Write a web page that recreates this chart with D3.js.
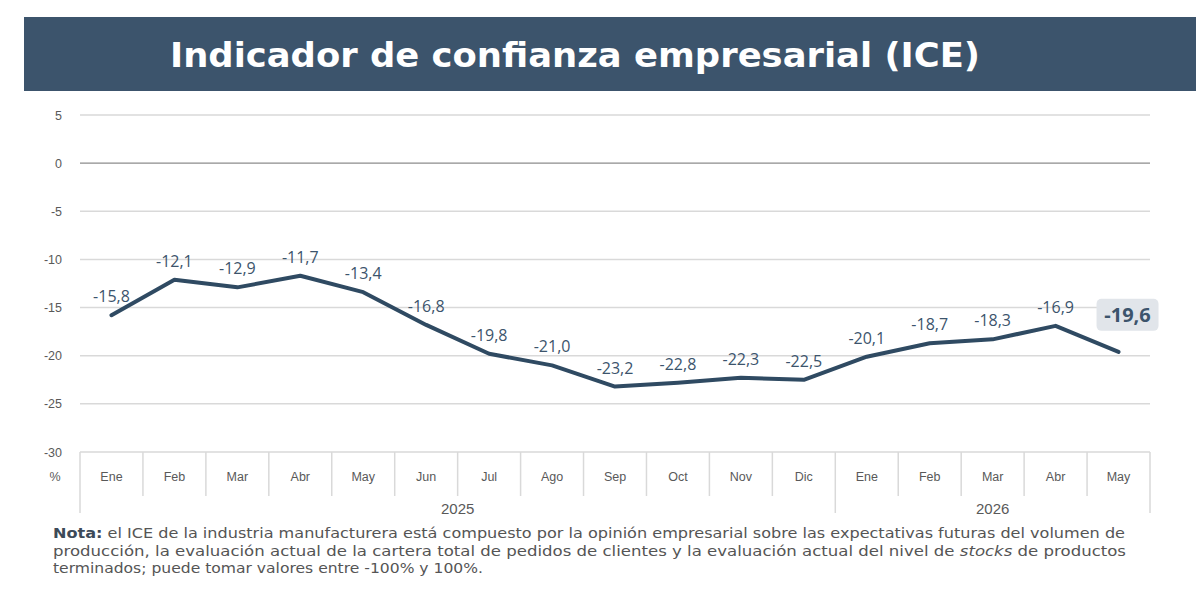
<!DOCTYPE html>
<html>
<head>
<meta charset="utf-8">
<script src="https://cdn.jsdelivr.net/npm/d3@7"></script>
<style>
  body { margin: 0; background: #fff; }
  svg { display: block; }
</style>
</head>
<body>
<div id="viz"></div>
<script>
// datos del ICE
var months = ['Ene','Feb','Mar','Abr','May','Jun','Jul','Ago','Sep','Oct','Nov','Dic','Ene','Feb','Mar','Abr','May'];
var years = ['2025','2026'];
var yearOf = [0,0,0,0,0,0,0,0,0,0,0,0,1,1,1,1,1];
var values = [-15.8,-12.1,-12.9,-11.7,-13.4,-16.8,-19.8,-21.0,-23.2,-22.8,-22.3,-22.5,-20.1,-18.7,-18.3,-16.9,-19.6];
var yTicks = [5,0,-5,-10,-15,-20,-25,-30];

var width = 1200, height = 592;
var svg = d3.select('#viz').append('svg').attr('width', width).attr('height', height);

// banner
svg.append('rect').attr('x', 24).attr('y', 17).attr('width', 1172).attr('height', 74).attr('fill', '#3c546c');
svg.append('text').attr('x', 170).attr('y', 67)
  .attr('fill', '#fff').attr('font-family', '"DejaVu Sans", sans-serif')
  .attr('font-weight', 'bold').attr('font-size', 34)
  .attr('textLength', 810).attr('lengthAdjust', 'spacingAndGlyphs')
  .text('Indicador de confianza empresarial (ICE)');

var keys = d3.range(values.length);
var x = d3.scaleBand().domain(keys).range([80, 1150]);
var y = d3.scaleLinear().domain([-30, 5]).range([452, 115]);

// grid
var grid = svg.append('g');
grid.selectAll('line').data(yTicks.filter(d => d > -30)).join('line')
  .attr('x1', 80).attr('x2', 1150)
  .attr('y1', d => y(d)).attr('y2', d => y(d))
  .attr('stroke', d => d == 0 ? '#8c8c8c' : '#d9d9d9')
  .attr('stroke-width', d => d == 0 ? 1.2 : 1.5);

var yAxis = d3.axisLeft(y).tickValues(yTicks).tickSize(0).tickPadding(0).tickFormat(d => String(d));
var ya = svg.append('g').attr('transform', 'translate(62,0)').call(yAxis);
ya.select('.domain').remove();
ya.selectAll('text').attr('fill', '#595959').attr('font-size', 12.5)
  .attr('font-family', '"Liberation Sans Narrow", "Arial Narrow", sans-serif');

svg.append('text').attr('x', 55).attr('y', 481).attr('text-anchor', 'middle')
  .attr('fill', '#595959').attr('font-size', 12.5)
  .attr('font-family', '"Liberation Sans Narrow", "Arial Narrow", sans-serif').text('%');

// eje de categorias
var cat = svg.append('g');
var axisCol = '#d9d9d9';
cat.append('line').attr('x1', 80).attr('x2', 1150).attr('y1', 452).attr('y2', 452)
  .attr('stroke', axisCol).attr('stroke-width', 1.5);
cat.selectAll('line.sep').data(keys.slice(1)).join('line').attr('class', 'sep')
  .attr('x1', d => x(d)).attr('x2', d => x(d))
  .attr('y1', 452).attr('y2', d => yearOf[d] != yearOf[d - 1] ? 513 : 496)
  .attr('stroke', axisCol).attr('stroke-width', 1.5);
[80, 1150].forEach(function(px) {
  cat.append('line').attr('x1', px).attr('x2', px).attr('y1', 452).attr('y2', 513)
    .attr('stroke', axisCol).attr('stroke-width', 1.5);
});
cat.selectAll('text.m').data(keys).join('text').attr('class', 'm')
  .attr('x', d => x(d) + x.bandwidth() / 2).attr('y', 481)
  .attr('text-anchor', 'middle').attr('fill', '#595959').attr('font-size', 12.5)
  .attr('font-family', '"Liberation Sans Narrow", "Arial Narrow", sans-serif')
  .text(d => months[d]);
cat.selectAll('text.yr').data(years).join('text').attr('class', 'yr')
  .attr('x', function(d, i) {
    var ks = keys.filter(k => yearOf[k] == i);
    return (x(ks[0]) + x(ks[ks.length - 1]) + x.bandwidth()) / 2;
  })
  .attr('y', 514).attr('text-anchor', 'middle').attr('fill', '#595959').attr('font-size', 15)
  .attr('font-family', '"Liberation Sans Narrow", "Arial Narrow", sans-serif')
  .text(d => d);

// linea
var line = d3.line().x(d => x(d) + x.bandwidth() / 2).y(d => y(values[d]));
svg.append('path').datum(keys).attr('d', line).attr('fill', 'none')
  .attr('stroke', '#2f4a62').attr('stroke-width', 4)
  .attr('stroke-linejoin', 'round').attr('stroke-linecap', 'round');

var fmt = v => d3.format('.1f')(v).replace('.', ',').replace('−', '-');
var last = keys.length - 1;
svg.append('g').selectAll('text').data(keys.slice(0, last)).join('text')
  .attr('x', d => x(d) + x.bandwidth() / 2).attr('y', d => y(values[d]) - 13)
  .attr('text-anchor', 'middle').attr('fill', '#3c546c').attr('font-size', 16)
  .attr('font-family', '"Open Sans", Lato, sans-serif')
  .text(d => fmt(values[d]));

// ultima etiqueta destacada
var lx = x(last) + x.bandwidth() / 2 + 9, ly = y(values[last]) - 37;
svg.append('rect').attr('x', lx - 31).attr('y', ly - 16).attr('width', 62).attr('height', 32)
  .attr('rx', 5).attr('fill', '#e1e5ea');
svg.append('text').attr('x', lx).attr('y', ly + 7).attr('text-anchor', 'middle')
  .attr('fill', '#3c546c').attr('font-weight', 'bold').attr('font-size', 20)
  .attr('font-family', '"Open Sans", Lato, sans-serif').text(fmt(values[last]));

// nota
var noteFont = '"DejaVu Sans", sans-serif';
function noteLine(yy, len) {
  return svg.append('text').attr('x', 53).attr('y', yy)
    .attr('font-family', noteFont).attr('font-size', 14).attr('fill', '#555')
    .attr('textLength', len).attr('lengthAdjust', 'spacingAndGlyphs');
}
var l1 = noteLine(538, 1072);
l1.append('tspan').attr('font-weight', 'bold').attr('fill', '#3c4a58').text('Nota:');
l1.append('tspan').text(' el ICE de la industria manufacturera está compuesto por la opinión empresarial sobre las expectativas futuras del volumen de');
var l2 = noteLine(556, 1073);
l2.append('tspan').text('producción, la evaluación actual de la cartera total de pedidos de clientes y la evaluación actual del nivel de ');
l2.append('tspan').attr('font-style', 'italic').text('stocks');
l2.append('tspan').text(' de productos');
noteLine(573, 430).text('terminados; puede tomar valores entre -100% y 100%.');
</script>
</body>
</html>
